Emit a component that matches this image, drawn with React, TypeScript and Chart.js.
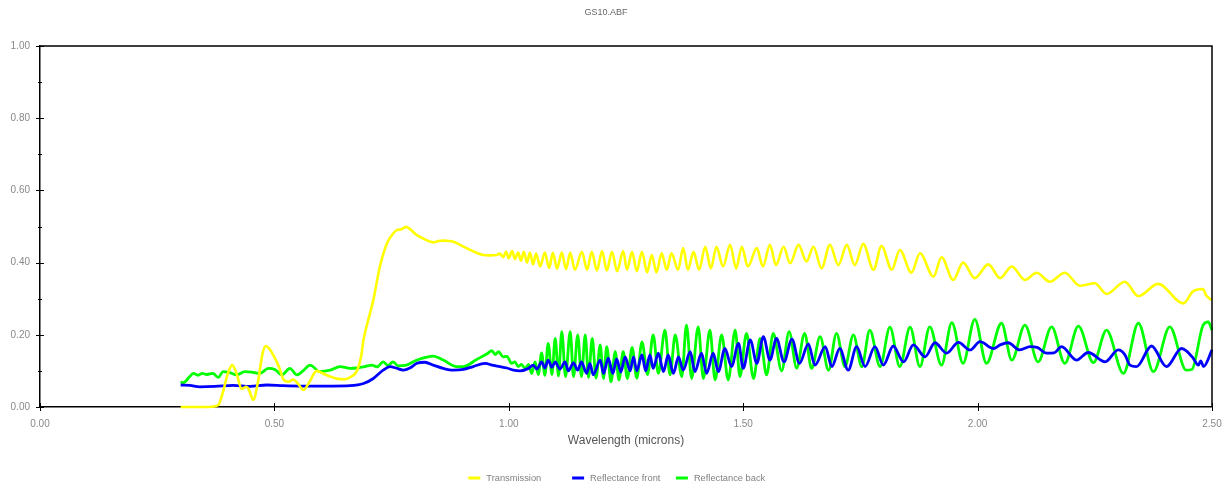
import React, { useEffect, useRef } from "react";
import { Chart, registerables } from "chart.js";

Chart.register(...registerables);

const FONT = "'Liberation Sans', Arial, sans-serif";

const chartTitle = "GS10.ABF";
const xAxisTitle = "Wavelength (microns)";
const xTickValues = [0, 0.5, 1.0, 1.5, 2.0, 2.5];
const yMajorTicks = [0, 0.2, 0.4, 0.6, 0.8, 1.0];
const yMinorTicks = [0.1, 0.3, 0.5, 0.7, 0.9];

const seriesLabels = ["Transmission", "Reflectance front", "Reflectance back"];
const seriesColors = ["#FFFF00", "#0000FF", "#00FF00"];

const transWl = [
  0.30, 0.33, 0.36, 0.38, 0.39, 0.40, 0.41, 0.42, 0.43, 0.44,
  0.445, 0.455, 0.465, 0.475, 0.482, 0.49, 0.50, 0.51, 0.52, 0.53,
  0.54, 0.55, 0.562, 0.575, 0.59, 0.605, 0.62, 0.635, 0.65, 0.665,
  0.676, 0.685, 0.69, 0.70, 0.711, 0.725, 0.74, 0.75, 0.761, 0.77,
  0.781, 0.79, 0.804, 0.82, 0.839, 0.85, 0.86, 0.87, 0.882, 0.895,
  0.91, 0.93, 0.946, 0.96, 0.974,
  0.981, 0.988, 0.994, 1.000, 1.007, 1.013, 1.020, 1.026, 1.032, 1.039,
  1.045, 1.052, 1.058, 1.067, 1.077, 1.086, 1.094, 1.103, 1.113, 1.122,
  1.131, 1.141, 1.156, 1.167, 1.177, 1.188, 1.199, 1.209, 1.220, 1.231,
  1.244, 1.252, 1.263, 1.273, 1.284, 1.295, 1.305, 1.315, 1.326, 1.337,
  1.347, 1.361, 1.372, 1.382, 1.394, 1.406, 1.419, 1.431, 1.443, 1.457,
  1.472, 1.485, 1.497, 1.510, 1.529, 1.542, 1.557, 1.570, 1.586, 1.600,
  1.618, 1.635, 1.650, 1.667, 1.685, 1.703, 1.721, 1.738, 1.756, 1.778,
  1.795, 1.817, 1.834, 1.859, 1.877, 1.906, 1.923, 1.948, 1.969, 1.994,
  2.023, 2.048, 2.073, 2.101, 2.126, 2.154, 2.186, 2.218, 2.250, 2.275,
  2.314, 2.343, 2.385, 2.439, 2.459, 2.471, 2.481, 2.487, 2.500,
];
const transVal = [
  0, 0, 0, 0.005, 0.04, 0.09, 0.116, 0.09, 0.05, 0.056,
  0.05, 0.02, 0.07, 0.15, 0.169, 0.16, 0.138, 0.11, 0.075, 0.07,
  0.076, 0.065, 0.047, 0.07, 0.10, 0.092, 0.084, 0.078, 0.077, 0.085,
  0.10, 0.14, 0.186, 0.24, 0.296, 0.389, 0.453, 0.475, 0.49, 0.492,
  0.499, 0.492, 0.476, 0.465, 0.456, 0.46, 0.461, 0.46, 0.458, 0.45,
  0.44, 0.428, 0.421, 0.42, 0.421,
  0.425, 0.415, 0.43, 0.412, 0.432, 0.41, 0.428, 0.405, 0.43, 0.40,
  0.428, 0.395, 0.425, 0.39, 0.428, 0.385, 0.427, 0.383, 0.428, 0.382,
  0.427, 0.38, 0.43, 0.38, 0.43, 0.378, 0.432, 0.378, 0.43, 0.376,
  0.432, 0.38, 0.43, 0.376, 0.43, 0.373, 0.421, 0.373, 0.426, 0.38,
  0.426, 0.38, 0.44, 0.38, 0.43, 0.38, 0.444, 0.384, 0.444, 0.389,
  0.449, 0.384, 0.444, 0.389, 0.44, 0.389, 0.449, 0.393, 0.444, 0.398,
  0.449, 0.403, 0.444, 0.384, 0.449, 0.393, 0.449, 0.393, 0.452, 0.38,
  0.446, 0.38, 0.435, 0.372, 0.426, 0.361, 0.415, 0.352, 0.40, 0.357,
  0.395, 0.357, 0.389, 0.352, 0.372, 0.347, 0.372, 0.336, 0.343, 0.313,
  0.347, 0.307, 0.341, 0.287, 0.32, 0.326, 0.327, 0.31, 0.296,
];

const frontWl = [
  0.30, 0.320, 0.341, 0.373, 0.412, 0.448, 0.484, 0.519, 0.555, 0.590,
  0.625, 0.661, 0.690, 0.711, 0.732, 0.747, 0.759, 0.775, 0.789, 0.804,
  0.821, 0.839, 0.860, 0.882, 0.903, 0.924, 0.949, 0.967, 0.981, 0.996,
  1.010, 1.024, 1.042, 1.052, 1.060, 1.070, 1.077, 1.084, 1.092, 1.099,
  1.109, 1.120, 1.127, 1.138, 1.147, 1.155, 1.166, 1.173, 1.180, 1.195,
  1.202, 1.212, 1.222, 1.230, 1.239, 1.248, 1.259, 1.266, 1.273, 1.284,
  1.292, 1.301, 1.308, 1.319, 1.330, 1.340, 1.351, 1.362, 1.372, 1.387,
  1.397, 1.411, 1.422, 1.436, 1.447, 1.461, 1.475, 1.490, 1.500, 1.515,
  1.529, 1.543, 1.557, 1.571, 1.587, 1.604, 1.620, 1.639, 1.653, 1.675,
  1.689, 1.706, 1.724, 1.742, 1.760, 1.781, 1.799, 1.820, 1.842, 1.863,
  1.888, 1.909, 1.934, 1.959, 1.984, 2.005, 2.034, 2.048, 2.065, 2.090,
  2.112, 2.127, 2.147, 2.163, 2.179, 2.211, 2.236, 2.272, 2.300, 2.314,
  2.325, 2.339, 2.371, 2.403, 2.435, 2.446, 2.460, 2.471, 2.476, 2.482,
  2.500,
];
const frontVal = [
  0.061, 0.06, 0.056, 0.057, 0.06, 0.057, 0.061, 0.059, 0.058, 0.058,
  0.058, 0.059, 0.065, 0.079, 0.102, 0.112, 0.108, 0.102, 0.108, 0.121,
  0.124, 0.116, 0.107, 0.102, 0.104, 0.112, 0.121, 0.115, 0.112, 0.108,
  0.102, 0.10, 0.107, 0.116, 0.105, 0.125, 0.108, 0.13, 0.11, 0.125,
  0.105, 0.125, 0.10, 0.122, 0.102, 0.125, 0.093, 0.121, 0.089, 0.13,
  0.093, 0.135, 0.093, 0.133, 0.097, 0.139, 0.10, 0.139, 0.10, 0.144,
  0.10, 0.144, 0.107, 0.149, 0.098, 0.144, 0.093, 0.139, 0.102, 0.153,
  0.098, 0.149, 0.093, 0.149, 0.098, 0.162, 0.112, 0.176, 0.107, 0.186,
  0.121, 0.195, 0.13, 0.19, 0.125, 0.188, 0.121, 0.175, 0.116, 0.167,
  0.112, 0.162, 0.102, 0.167, 0.112, 0.167, 0.116, 0.169, 0.125, 0.172,
  0.139, 0.178, 0.149, 0.179, 0.158, 0.181, 0.162, 0.172, 0.178, 0.158,
  0.167, 0.165, 0.149, 0.15, 0.167, 0.13, 0.151, 0.125, 0.158, 0.145,
  0.116, 0.112, 0.169, 0.112, 0.162, 0.155, 0.135, 0.116, 0.128, 0.112,
  0.158,
];

const backWl = [
  0.30, 0.305, 0.320, 0.327, 0.337, 0.346, 0.356, 0.369, 0.380, 0.391,
  0.405, 0.420, 0.437, 0.454, 0.469, 0.487, 0.501, 0.516, 0.533, 0.548,
  0.561, 0.576, 0.597, 0.619, 0.640, 0.661, 0.676, 0.693, 0.708, 0.719,
  0.732, 0.742, 0.753, 0.764, 0.779, 0.804, 0.839, 0.860, 0.889, 0.903,
  0.932, 0.953, 0.964, 0.971, 0.978, 0.988, 0.996, 1.006, 1.013, 1.020,
  1.027,
  1.035, 1.042, 1.049, 1.056, 1.063, 1.070, 1.077, 1.084, 1.092, 1.099,
  1.106, 1.113, 1.121, 1.131, 1.138, 1.147, 1.155, 1.163, 1.170, 1.178,
  1.186, 1.195, 1.202, 1.209, 1.218, 1.227, 1.235, 1.244, 1.253, 1.263,
  1.273, 1.284, 1.296, 1.308, 1.319, 1.333, 1.344, 1.355, 1.369, 1.379,
  1.390, 1.404, 1.415, 1.429, 1.440, 1.454, 1.468, 1.483, 1.493, 1.507,
  1.522, 1.536, 1.550, 1.564, 1.582, 1.598, 1.614, 1.631, 1.646, 1.664,
  1.682, 1.699, 1.717, 1.735, 1.753, 1.770, 1.792, 1.813, 1.834, 1.856,
  1.877, 1.898, 1.923, 1.945, 1.969, 1.994, 2.019, 2.051, 2.073, 2.101,
  2.129, 2.158, 2.186, 2.215, 2.247, 2.275, 2.311, 2.343, 2.375, 2.410,
  2.445, 2.457, 2.481, 2.492, 2.500,
];
const backVal = [
  0.07, 0.067, 0.085, 0.093, 0.088, 0.093, 0.09, 0.093, 0.082, 0.098,
  0.095, 0.089, 0.098, 0.096, 0.093, 0.107, 0.104, 0.089, 0.107, 0.089,
  0.10, 0.116, 0.098, 0.102, 0.112, 0.107, 0.108, 0.112, 0.116, 0.111,
  0.125, 0.115, 0.125, 0.114, 0.115, 0.13, 0.141, 0.13, 0.112, 0.112,
  0.132, 0.147, 0.156, 0.145, 0.153, 0.139, 0.14, 0.121, 0.125, 0.112,
  0.118,
  0.107, 0.118, 0.093, 0.125, 0.09, 0.15, 0.088, 0.176, 0.09, 0.19,
  0.086, 0.209, 0.084, 0.209, 0.084, 0.20, 0.084, 0.20, 0.082, 0.19,
  0.08, 0.172, 0.079, 0.167, 0.07, 0.153, 0.075, 0.153, 0.079, 0.165,
  0.08, 0.18, 0.09, 0.20, 0.093, 0.213, 0.089, 0.20, 0.084, 0.227,
  0.079, 0.222, 0.079, 0.213, 0.075, 0.20, 0.075, 0.213, 0.084, 0.204,
  0.079, 0.19, 0.089, 0.204, 0.10, 0.209, 0.108, 0.204, 0.107, 0.195,
  0.102, 0.204, 0.112, 0.20, 0.112, 0.213, 0.112, 0.221, 0.112, 0.221,
  0.112, 0.222, 0.116, 0.234, 0.121, 0.243, 0.121, 0.232, 0.13, 0.227,
  0.125, 0.222, 0.121, 0.224, 0.123, 0.213, 0.093, 0.232, 0.098, 0.222,
  0.102, 0.104, 0.227, 0.236, 0.213,
];

const toPoints = (xs: number[], ys: number[]) =>
  xs.map((x, i) => ({ x, y: ys[i] }));

const framePlugin = {
  id: "frameAndLegend",
  afterDatasetsDraw(chart: any) {
    const { ctx, chartArea: a, scales } = chart;
    const xs = scales.x;
    const ys = scales.y;
    ctx.save();
    ctx.strokeStyle = "#000";
    ctx.lineWidth = 1.5;
    ctx.beginPath();
    ctx.moveTo(a.left, a.top);
    ctx.lineTo(a.right, a.top);
    ctx.lineTo(a.right, a.bottom);
    ctx.stroke();

    ctx.lineWidth = 1;
    ctx.beginPath();
    for (const v of yMajorTicks) {
      const py = Math.round(ys.getPixelForValue(v)) + 0.5;
      ctx.moveTo(a.left - 4, py);
      ctx.lineTo(a.left + 4, py);
    }
    for (const v of yMinorTicks) {
      const py = Math.round(ys.getPixelForValue(v)) + 0.5;
      ctx.moveTo(a.left - 2, py);
      ctx.lineTo(a.left + 2, py);
    }
    for (const v of xTickValues) {
      const px = Math.round(xs.getPixelForValue(v)) + 0.5;
      ctx.moveTo(px, a.bottom - 4);
      ctx.lineTo(px, a.bottom + 4);
    }
    ctx.stroke();
    ctx.restore();
  },
  afterDraw(chart: any) {
    const { ctx } = chart;
    ctx.save();
    const itemW = 103.8;
    const start = chart.width / 2 - 147.2;
    const yy = 478;
    ctx.font = `9.3px ${FONT}`;
    ctx.textBaseline = "middle";
    ctx.textAlign = "left";
    chart.data.datasets.forEach((ds: any, i: number) => {
      const x0 = start + i * itemW;
      ctx.strokeStyle = ds.borderColor;
      ctx.lineWidth = 3;
      ctx.beginPath();
      ctx.moveTo(x0, yy);
      ctx.lineTo(x0 + 12, yy);
      ctx.stroke();
      ctx.fillStyle = "#808080";
      ctx.fillText(ds.label, x0 + 18, yy);
    });
    ctx.restore();
  },
};

export default function App() {
  const ref = useRef<HTMLCanvasElement | null>(null);

  useEffect(() => {
    document.body.style.margin = "0";
    const canvas = ref.current;
    if (!canvas) return;
    const chart = new Chart(canvas, {
      type: "line",
      data: {
        datasets: [
          {
            label: seriesLabels[0],
            data: toPoints(transWl, transVal),
            borderColor: seriesColors[0],
            backgroundColor: seriesColors[0],
            borderWidth: 2.6,
            pointRadius: 0,
            cubicInterpolationMode: "monotone",
            clip: false,
          },
          {
            label: seriesLabels[1],
            data: toPoints(frontWl, frontVal),
            borderColor: seriesColors[1],
            backgroundColor: seriesColors[1],
            borderWidth: 2.8,
            pointRadius: 0,
            cubicInterpolationMode: "monotone",
            clip: false,
          },
          {
            label: seriesLabels[2],
            data: toPoints(backWl, backVal),
            borderColor: seriesColors[2],
            backgroundColor: seriesColors[2],
            borderWidth: 2.8,
            pointRadius: 0,
            cubicInterpolationMode: "monotone",
            clip: false,
          },
        ],
      },
      options: {
        animation: false,
        responsive: false,
        devicePixelRatio: 1,
        layout: { padding: { left: 0, right: 19, top: 0, bottom: 0 } },
        plugins: {
          legend: { display: false },
          tooltip: { enabled: false },
          title: {
            display: true,
            text: chartTitle,
            color: "#666",
            font: { family: FONT, size: 9, weight: "normal" },
            padding: { top: 7, bottom: 28.2 },
          },
        },
        scales: {
          x: {
            type: "linear",
            min: 0,
            max: 2.5,
            grid: { display: false },
            border: { display: true, color: "#000", width: 1.5 },
            ticks: {
              stepSize: 0.5,
              color: "#888",
              font: { family: FONT, size: 10 },
              padding: 3,
              maxRotation: 0,
              callback: (v: any) => Number(v).toFixed(2),
            },
            title: {
              display: true,
              text: xAxisTitle,
              color: "#555",
              font: { family: FONT, size: 12 },
              padding: { top: 4, bottom: 43 },
            },
            afterFit: (s: any) => {
              s.height = 84;
            },
          },
          y: {
            type: "linear",
            min: 0,
            max: 1,
            grid: { display: false },
            border: { display: true, color: "#000", width: 1.5 },
            ticks: {
              stepSize: 0.2,
              color: "#888",
              font: { family: FONT, size: 10 },
              padding: 2,
              callback: (v: any) => Number(v).toFixed(2),
            },
            afterFit: (s: any) => {
              s.width = 40;
            },
          },
        },
      },
      plugins: [framePlugin],
    });
    return () => chart.destroy();
  }, []);

  return (
    <div style={{ width: 1231, height: 491 }}>
      <canvas ref={ref} width={1231} height={491} style={{ display: "block" }} />
    </div>
  );
}
